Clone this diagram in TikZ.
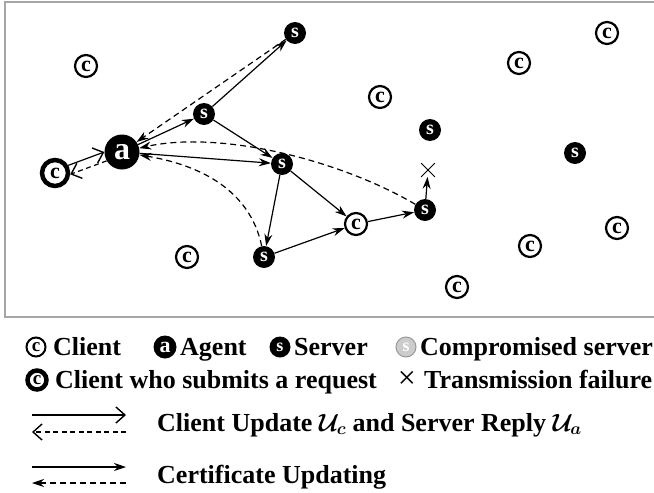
\documentclass[tikz,border=0pt]{standalone}
\usepackage{fontspec}
\setmainfont{Liberation Serif}
\usetikzlibrary{arrows.meta,shapes.misc}

\newcommand{\upc}{\ensuremath{\mathcal{U}_c}}
\newcommand{\upa}{\ensuremath{\mathcal{U}_a}}

\begin{document}
\begin{tikzpicture}[x=1pt,y=-1pt,
  client/.style={shape=circle,draw=black,line width=2.2pt,fill=white,minimum size=22pt,inner sep=0pt,font=\fontsize{22}{22}\selectfont\bfseries},
  reqclient/.style={client,line width=4.5pt,minimum size=26pt},
  server/.style={shape=circle,fill=black,text=white,minimum size=22pt,inner sep=0pt,font=\fontsize{20}{20}\selectfont\bfseries},
  agent/.style={server,minimum size=35pt,font=\fontsize{32}{32}\selectfont\bfseries},
  badserver/.style={server,fill=gray!40,draw=gray!80,line width=1pt},
  cert/.style={line width=1.2pt,-{Stealth[length=12pt,width=8pt]}},
  certback/.style={cert,dash pattern=on 6pt off 4pt},
  upd/.style={line width=1.2pt,-{Straight Barb[length=9pt,width=16pt,line width=1.4pt]}},
  updback/.style={upd,dash pattern=on 5pt off 3.5pt},
  legend/.style={anchor=base west,inner sep=0pt,font=\fontsize{26}{26}\selectfont\bfseries\boldmath}]
  \useasboundingbox (0,0) rectangle (654,493);
  \draw[gray!70,line width=1.5pt] (660,2) -- (5,2) -- (5,317) -- (660,317);
  % clients
  \node[client] (c1) at (86,66) {c};
  \node[client] (c2) at (187,257) {c};
  \node[client] (c3) at (356,224) {c};
  \node[client] (c4) at (380,97) {c};
  \node[client] (c5) at (519,63) {c};
  \node[client] (c6) at (607,33) {c};
  \node[client] (c7) at (530,246) {c};
  \node[client] (c8) at (617,228) {c};
  \node[client] (c9) at (457,287) {c};
  \node[reqclient] (c0) at (55,173) {c};
  % agent and servers
  \node[agent] (a) at (122,152) {a};
  \node[server] (s1) at (295,33) {s};
  \node[server] (s2) at (204,114) {s};
  \node[server] (s3) at (282,164) {s};
  \node[server] (s4) at (264,257) {s};
  \node[server] (s5) at (425,210) {s};
  \node[server] (s6) at (430,130) {s};
  \node[server] (s7) at (575,153) {s};
  \node[cross out,draw,line width=0.8pt,minimum size=13pt,inner sep=0pt] (x) at (428,170) {};
  % request and reply
  \path (c0.30) edge[upd] (a.180);
  \path (a.210) edge[updback] (c0.355);
  % certificate updating
  \path (a) edge[cert] (s2);
  \path (s2) edge[cert] (s1);
  \path (s1) edge[certback] (a);
  \path (a) edge[cert] (s3);
  \path (s2) edge[cert] (s3);
  \path (s3) edge[cert] (s4);
  \path (s3) edge[cert] (c3);
  \path (s4) edge[cert] (c3);
  \path (c3) edge[cert] (s5);
  \path (s5) edge[cert] (x);
  \draw[certback] (s5) .. controls (340,160) and (220,130) .. (a);
  \draw[certback] (s4) .. controls (250,190) and (200,165) .. (a);
  % legend
  \node[client,line width=2pt,minimum size=19pt,font=\fontsize{19}{19}\selectfont\bfseries] (lc) at (36,347) {c};
  \node[legend] (lct) at (53,355) {Client};
  \node[server,minimum size=23pt,font=\fontsize{22}{22}\selectfont\bfseries] (la) at (165,347) {a};
  \node[legend] (lat) at (180,355) {Agent};
  \node[server,minimum size=21pt,font=\fontsize{18}{18}\selectfont\bfseries] (ls) at (280,347) {s};
  \node[legend] (lst) at (294,355) {Server};
  \node[badserver,minimum size=20pt,font=\fontsize{18}{18}\selectfont\bfseries] (lb) at (406,347) {s};
  \node[legend] (lbt) at (420,355) {Compromised server};
  \node[reqclient,line width=4.5pt,minimum size=19pt,font=\fontsize{19}{19}\selectfont\bfseries] (lr) at (37,380) {c};
  \node[legend] (lrt) at (55,388) {Client who submits a request};
  \node[inner sep=0pt,font=\fontsize{32}{32}\selectfont] (lx) at (407,380) {×};
  \node[legend] (lxt) at (424,388) {Transmission failure};
  \coordinate (u1) at (32,415);
  \coordinate (u2) at (126,415);
  \coordinate (u3) at (126,432);
  \coordinate (u4) at (32,432);
  \path (u1) edge[upd] (u2);
  \path (u3) edge[updback] (u4);
  \node[legend] (lut) at (157,431) {Client Update \upc{} and Server Reply \upa};
  \coordinate (v1) at (32,467);
  \coordinate (v2) at (126,467);
  \coordinate (v3) at (126,483);
  \coordinate (v4) at (32,483);
  \path (v1) edge[cert] (v2);
  \path (v3) edge[certback] (v4);
  \node[legend] (lvt) at (157,483) {Certificate Updating};
\end{tikzpicture}
\end{document}
